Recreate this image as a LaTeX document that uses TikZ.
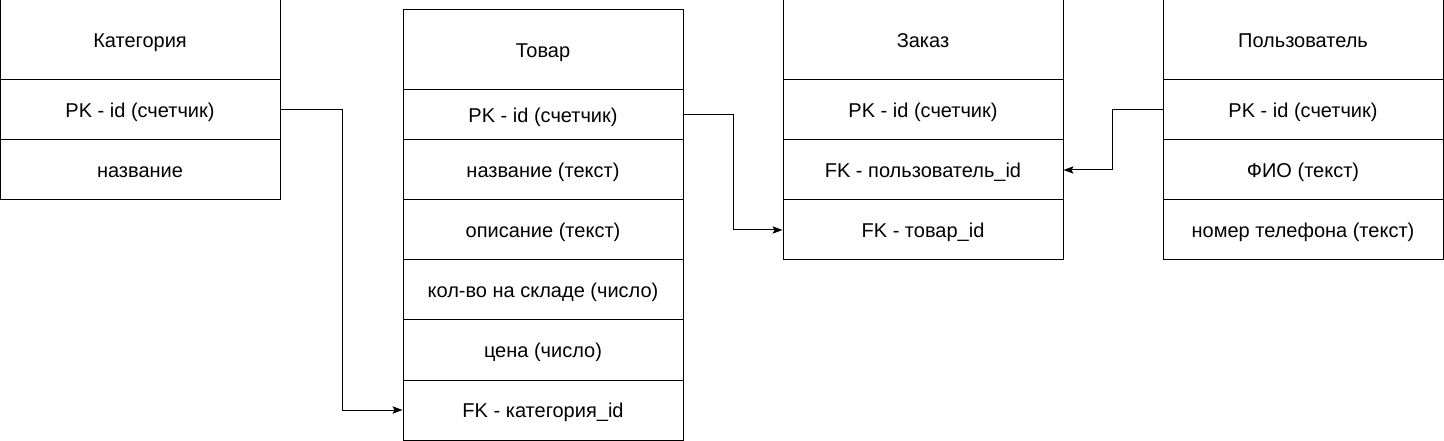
\documentclass[tikz,border=0pt]{standalone}
\usepackage{fontspec}
\setmainfont{Liberation Sans}
\usetikzlibrary{arrows.meta}
\begin{document}
\begin{tikzpicture}[x=0.75pt,y=-0.75pt,
  cell/.style={draw, line width=0.75pt, rectangle, inner sep=0pt, minimum width=210pt, minimum height=45pt, font=\fontsize{15}{18}\selectfont, text height=10.7pt, text depth=0pt, anchor=center},
  head/.style={cell, minimum height=60pt},
  short/.style={cell, minimum height=37.5pt},
  conn/.style={line width=0.75pt, -{Stealth[length=7.5pt,width=5.5pt,inset=1.5pt]}}]
\useasboundingbox (0,0) rectangle (1444,441);
% Категория
\node[head] (cat0) at (140,40) {Категория};
\node[cell] (cat1) at (140,110) {PK - id (счетчик)};
\node[cell] (cat2) at (140,170) {название};
% Товар
\node[head] (t0) at (543,50) {Товар};
\node[short] (t1) at (543,115) {PK - id (счетчик)};
\node[cell] (t2) at (543,170) {название (текст)};
\node[cell] (t3) at (543,230) {описание (текст)};
\node[cell] (t4) at (543,290) {кол-во на складе (число)};
\node[cell] (t5) at (543,350) {цена (число)};
\node[cell] (t6) at (543,410) {FK - категория\_id};
% Заказ
\node[head] (z0) at (923,40) {Заказ};
\node[cell] (z1) at (923,110) {PK - id (счетчик)};
\node[cell] (z2) at (923,170) {FK - пользователь\_id};
\node[cell] (z3) at (923,230) {FK - товар\_id};
% Пользователь
\node[head] (p0) at (1303,40) {Пользователь};
\node[cell] (p1) at (1303,110) {PK - id (счетчик)};
\node[cell] (p2) at (1303,170) {ФИО (текст)};
\node[cell] (p3) at (1303,230) {номер телефона (текст)};
% connectors
\draw[conn] (cat1.east) -- ++(62,0) |- (t6.west);
\draw[conn] (t1.east) -- ++(50,0) |- (z3.west);
\draw[conn] (p1.west) -- ++(-50,0) |- (z2.east);
\end{tikzpicture}
\end{document}
